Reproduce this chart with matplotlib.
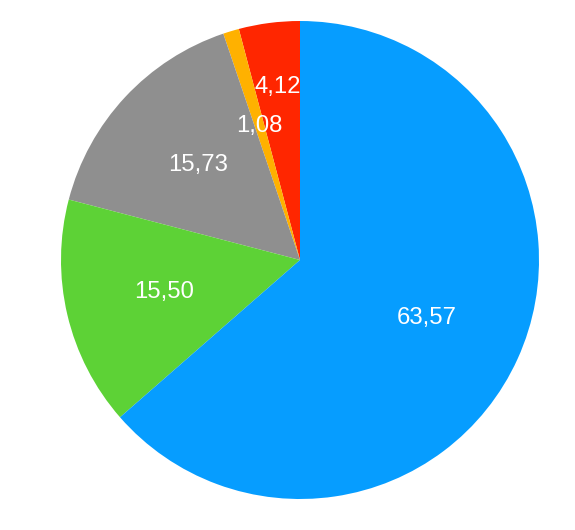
import numpy as np
import matplotlib
matplotlib.use('Agg')
import matplotlib.pyplot as plt

# slices, counter-clockwise from the top
names = ['red', 'orange', 'gray', 'green', 'blue']
values = [4.12, 1.08, 15.73, 15.50, 63.57]
colors = ['#FF2600', '#FFB100', '#8F8F8F', '#5DD236', '#069DFF']
label_dist = [0.73, 0.585, 0.585, 0.585, 0.583]

plt.rcParams['font.family'] = ['Liberation Sans', 'DejaVu Sans']

fig = plt.figure(figsize=(5.75, 5.30), dpi=100)
fig.set_facecolor('white')
cx, cy, r = 300, 260, 239
ax = fig.add_axes([(cx - r) / 575, (530 - cy - r) / 530, 2 * r / 575, 2 * r / 530])

wedges, _ = ax.pie(values, colors=colors, startangle=90, counterclock=True,
                   radius=1, wedgeprops=dict(linewidth=0))

for w, v, d in zip(wedges, values, label_dist):
    mid = np.deg2rad((w.theta1 + w.theta2) / 2)
    ax.text(d * np.cos(mid), d * np.sin(mid), f'{v:.2f}'.replace('.', ','),
            color='white', fontsize=17.2, ha='center', va='center')

ax.set_xlim(-1, 1)
ax.set_ylim(-1, 1)
ax.set_aspect('equal')
ax.axis('off')

plt.savefig('out.png', dpi=100, facecolor='white')
